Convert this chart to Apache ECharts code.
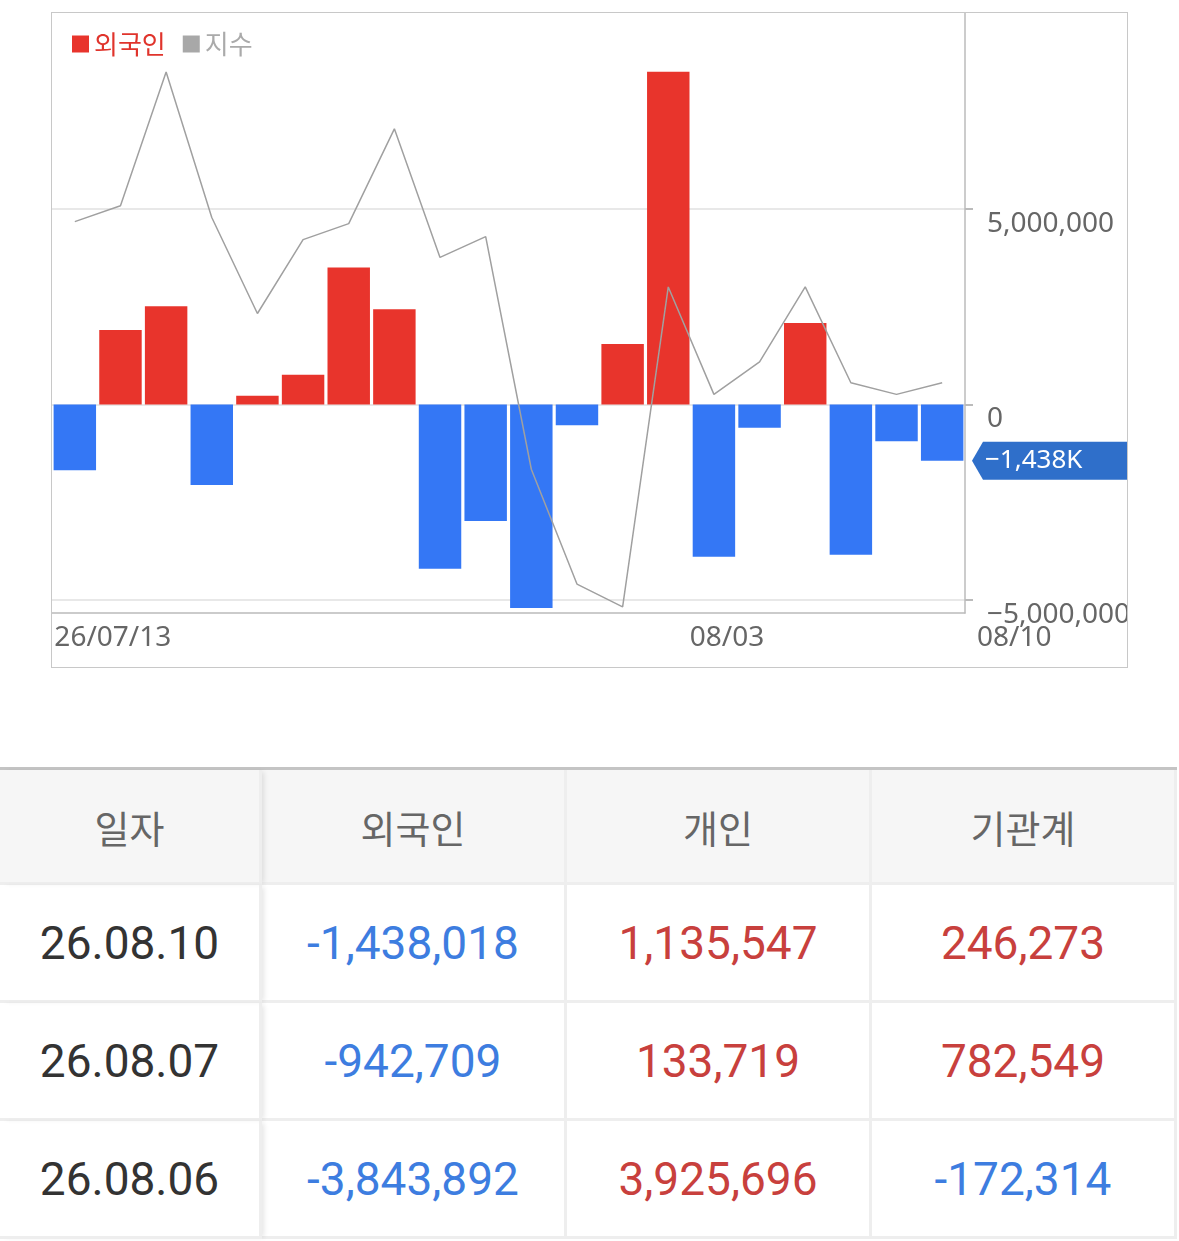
<!DOCTYPE html>
<html>
<head>
<meta charset="utf-8">
<script src="https://cdn.jsdelivr.net/npm/echarts@6/dist/echarts.min.js"></script>
<style>
body { margin: 0; background: #fff; width: 1179px; height: 1241px; overflow: hidden; position: relative; }
#chart { position: absolute; left: 51px; top: 12px; width: 1077px; height: 656px; box-sizing: border-box; border: 1px solid #c8c8c8; }
table { position: absolute; left: 0; top: 767px; width: 1177px; border-collapse: separate; border-spacing: 0; table-layout: fixed; border-top: 3px solid #c4c4c4; }
th, td { text-align: center; padding: 0; border-bottom: 3px solid #eeeeee; border-right: 3px solid #eeeeee; }
th { height: 112px; background: #f6f6f6; color: #666; font-weight: normal; font-size: 38px; font-family: 'Noto Sans CJK KR', sans-serif; }
td { height: 115px; font-size: 46px; font-family: Roboto, sans-serif; }
th:first-child, td:first-child { box-shadow: 4px 0 5px -2px rgba(0,0,0,0.10); position: relative; }
td.date { color: #333; }
td.up { color: #c8403d; }
td.down { color: #3d7de0; }
</style>
</head>
<body>
<div id="chart"></div>
<table id="flow"></table>
<script>
// 일자(카테고리)
var days = ['07/14', '07/15', '07/16', '07/17', '07/20', '07/21', '07/22', '07/23', '07/24', '07/27',
            '07/28', '07/29', '07/30', '07/31', '08/03', '08/04', '08/05', '08/06', '08/07', '08/10'];
// 외국인 순매수
var foreign = [-1680000, 1900000, 2510000, -2060000, 220000, 760000, 3500000, 2430000, -4200000, -2980000,
               -5200000, -530000, 1540000, 8500000, -3890000, -600000, 2080000, -3843892, -942709, -1438018];
// 지수
var indexLine = [2595.5, 2603.5, 2670.5, 2597.6, 2549.5, 2586.5, 2594.5, 2642.0, 2577.6, 2588.0,
                 2471.5, 2414.0, 2402.6, 2562.8, 2509.0, 2525.3, 2562.8, 2514.8, 2509.0, 2514.8];
// x축 라벨
var xTickIndex = [0, 14, 19];
var xTickLabels = ['26/07/13', '08/03', '08/10'];
// y축 눈금
var yTicks = [-5000000, 0, 5000000];

// 표
var tableHead = ['일자', '외국인', '개인', '기관계'];
var tableDates = ['26.08.10', '26.08.07', '26.08.06'];
var tableForeign = [-1438018, -942709, -3843892];
var tablePersonal = [1135547, 133719, 3925696];
var tableInst = [246273, 782549, -172314];

var RED = '#e8342c';
var BLUE = '#3477f5';
var TAG = '#2f6fca';

var chart = echarts.init(document.getElementById('chart'));

var last = foreign[foreign.length - 1];
var richStyles = ['a', 'b', 'c'];

// 차트 숫자는 긴 마이너스 기호 사용
function chartNum(v) {
    var s = Math.abs(v).toLocaleString('en-US');
    return v < 0 ? '\u2212' + s : s;
}

var option = {
    animation: false,
    legend: {
        left: 15,
        top: 13,
        icon: 'rect',
        itemWidth: 17,
        itemHeight: 17,
        itemGap: 17,
        selectedMode: false,
        textStyle: { fontSize: 26, fontFamily: 'Noto Sans CJK KR' },
        data: [
            { name: '외국인', textStyle: { color: '#e0342c' } },
            { name: '지수', textStyle: { color: '#aaaaaa' } }
        ]
    },
    grid: { left: 0, right: 162, top: 0, bottom: 54, outerBoundsMode: 'none', containLabel: false },
    xAxis: {
        type: 'category',
        data: days,
        boundaryGap: true,
        axisLine: { onZero: false, lineStyle: { color: '#bbbbbb', width: 1.5 } },
        axisTick: { show: false },
        splitLine: { show: false },
        axisLabel: {
            interval: function (i) { return xTickIndex.indexOf(i) >= 0; },
            formatter: function (v, i) {
                var k = xTickIndex.indexOf(i);
                return k < 0 ? '' : '{' + richStyles[k] + '|' + xTickLabels[k] + '}';
            },
            margin: 11,
            color: '#666',
            fontSize: 28,
            fontFamily: 'Noto Sans',
            rich: {
                a: { fontSize: 28, color: '#666', fontFamily: 'Noto Sans', padding: [0, 0, 0, 76] },
                b: { fontSize: 28, color: '#666', fontFamily: 'Noto Sans', padding: [0, 0, 0, 26] },
                c: { fontSize: 28, color: '#666', fontFamily: 'Noto Sans', padding: [0, 0, 0, 144] }
            }
        }
    },
    yAxis: [
        {
            type: 'value',
            position: 'right',
            min: -5330000,
            max: 10000000,
            axisLine: { show: true, lineStyle: { color: '#bbbbbb', width: 1.5 } },
            axisTick: { show: true, customValues: yTicks, length: 8, lineStyle: { color: '#bbbbbb', width: 2 } },
            splitLine: { show: true, lineStyle: { color: '#e8e8e8', width: 2 } },
            axisLabel: {
                customValues: yTicks,
                margin: 22,
                color: '#666',
                fontSize: 28,
                fontFamily: 'Noto Sans',
                verticalAlign: 'top',
                lineHeight: 28,
                padding: [1, 0, 0, 0],
                formatter: chartNum
            }
        },
        {
            type: 'value',
            show: false,
            min: 2399.5,
            max: 2700,
            splitLine: { show: false }
        }
    ],
    series: [
        {
            name: '외국인',
            type: 'bar',
            barWidth: '93%',
            itemStyle: { color: RED },
            data: foreign.map(function (v) {
                return { value: v, itemStyle: { color: v < 0 ? BLUE : RED } };
            }),
            markLine: {
                silent: true,
                animation: false,
                symbol: ['none', 'triangle'],
                symbolSize: [38, 11],
                symbolKeepAspect: false,
                symbolRotate: [0, 90],
                symbolOffset: [0, [0, 12.5]],
                lineStyle: { color: TAG, width: 0, type: 'solid', opacity: 1 },
                label: {
                    position: 'end',
                    distance: 18,
                    color: '#fff',
                    fontSize: 26,
                    fontFamily: 'Noto Sans',
                    lineHeight: 28,
                    backgroundColor: TAG,
                    padding: [5, 0, 5, 2],
                    width: 142,
                    formatter: function () {
                        return chartNum(Math.round(last / 1000)) + 'K';
                    }
                },
                emphasis: { disabled: true },
                data: [{ yAxis: last }]
            }
        },
        {
            name: '지수',
            type: 'line',
            yAxisIndex: 1,
            data: indexLine,
            symbol: 'none',
            itemStyle: { color: '#a8a8a8' },
            lineStyle: { color: '#a0a0a0', width: 1.5 },
            z: 5
        }
    ]
};

chart.setOption(option);

// 표 그리기
function cls(v) { return v < 0 ? 'down' : 'up'; }
function fmt(v) { return v.toLocaleString('en-US'); }
var widths = [262, 305, 305, 305];
var html = '<colgroup>' + widths.map(function (w) { return '<col style="width:' + w + 'px">'; }).join('') + '</colgroup>';
html += '<tr>' + tableHead.map(function (h) { return '<th>' + h + '</th>'; }).join('') + '</tr>';
for (var i = 0; i < tableDates.length; i++) {
    html += '<tr><td class="date">' + tableDates[i] + '</td>' +
        '<td class="' + cls(tableForeign[i]) + '">' + fmt(tableForeign[i]) + '</td>' +
        '<td class="' + cls(tablePersonal[i]) + '">' + fmt(tablePersonal[i]) + '</td>' +
        '<td class="' + cls(tableInst[i]) + '">' + fmt(tableInst[i]) + '</td></tr>';
}
document.getElementById('flow').innerHTML = html;
</script>
</body>
</html>
